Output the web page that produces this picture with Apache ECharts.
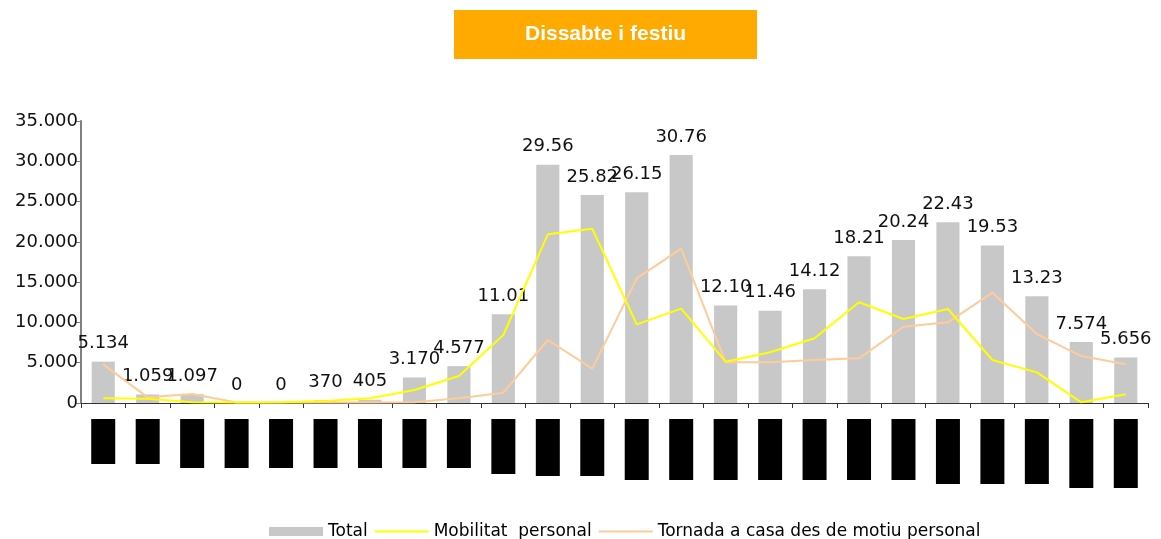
<!DOCTYPE html>
<html>
<head>
<meta charset="utf-8">
<script src="https://cdn.jsdelivr.net/npm/echarts@6.0.0/dist/echarts.min.js"></script>
<style>
  html, body { margin: 0; padding: 0; background: #fff; }
  #chart { width: 1161px; height: 539px; }
</style>
</head>
<body>
<!-- chart container -->
<div id="chart"></div>
<script>
// franges horàries (les etiquetes surten com a blocs negres)
const franges = ["0-1", "1-2", "2-3", "3-4", "4-5", "5-6", "6-7", "7-8", "8-9", "9-10", "10-11", "11-12",
  "12-13", "13-14", "14-15", "15-16", "16-17", "17-18", "18-19", "19-20", "20-21", "21-22", "22-23", "23-24"];
const total = [5134, 1059, 1097, 0, 0, 370, 405, 3170, 4577, 11017, 29562, 25827,
  26151, 30769, 12104, 11463, 14124, 18215, 20244, 22430, 19533, 13236, 7574, 5656];
const mobilitat = [580, 530, 90, 50, 80, 250, 580, 1610, 3350, 8440, 20930, 21630,
  9760, 11710, 5130, 6300, 8030, 12500, 10420, 11670, 5340, 3800, 80, 1080];
const tornada = [4800, 700, 1120, 50, 50, 50, 50, 80, 580, 1280, 7820, 4260,
  15470, 19150, 5050, 5050, 5340, 5540, 9470, 10010, 13690, 8560, 5830, 4800];
const yTicks = [0, 5000, 10000, 15000, 20000, 25000, 30000, 35000];

// longitud dels blocs negres de l'eix x (estil)
const boxLen = [45, 45, 49, 49, 49, 49, 49, 49, 49, 55, 57, 57, 61, 61, 61, 61, 61, 61, 61, 65, 65, 65, 69, 69];

const fmt = v => String(v).replace(/\B(?=(\d{3})+(?!\d))/g, ".");
const font = "DejaVu Sans";
const lineIcon = "path://M0,0H54V2H0Z";

const rich = {};
boxLen.forEach((w, i) => {
  rich["b" + i] = { width: w, height: 24, lineHeight: 24, backgroundColor: "#000", color: "#000", fontSize: 8 };
});

const myChart = echarts.init(document.getElementById("chart"));
myChart.setOption({
  animation: false,
  title: {
    text: "Dissabte i festiu",
    left: 454,
    top: 10,
    backgroundColor: "#ffaa00",
    padding: [14, 71],
    textStyle: { color: "#fff", fontSize: 21, fontWeight: "bold", fontFamily: "Liberation Sans", lineHeight: 21 },
  },
  grid: { left: 81, right: 13, top: 121, bottom: 136 },
  legend: {
    left: 264,
    top: 518,
    itemWidth: 54,
    itemHeight: 9,
    itemGap: 7,
    itemStyle: { borderWidth: 0 },
    textStyle: { fontFamily: font, fontSize: 17, color: "#000" },
    data: [
      { name: "Total", icon: "rect" },
      { name: "Mobilitat  personal", icon: lineIcon },
      {
        name: "Tornada a casa des de motiu personal",
        icon: lineIcon,
        textStyle: { width: 324, overflow: "truncate", ellipsis: "" },
      },
    ],
  },
  xAxis: {
    type: "category",
    data: franges,
    axisLine: { lineStyle: { color: "#333", width: 1 } },
    axisTick: { show: true, length: 5, lineStyle: { color: "#333" } },
    axisLabel: {
      interval: 0,
      rotate: 90,
      margin: 16,
      formatter: (v, i) => "{b" + i + "|" + v + "}",
      rich: rich,
    },
  },
  yAxis: {
    type: "value",
    min: yTicks[0],
    max: yTicks[yTicks.length - 1],
    interval: yTicks[1] - yTicks[0],
    splitLine: { show: false },
    axisLine: { show: true, lineStyle: { color: "#808080", width: 2 } },
    axisTick: { show: true, length: 5, lineStyle: { color: "#808080" } },
    axisLabel: { margin: 3, fontFamily: font, fontSize: 18, color: "#111", formatter: fmt },
  },
  series: [
    {
      name: "Total",
      type: "bar",
      data: total,
      barWidth: "52%",
      itemStyle: { color: "#c8c8c8" },
      label: {
        show: true,
        position: "top",
        distance: 9,
        fontFamily: font,
        fontSize: 18,
        color: "#111",
        width: 60,
        overflow: "truncate",
        ellipsis: "",
        formatter: p => fmt(p.value),
      },
      z: 1,
    },
    {
      name: "Mobilitat  personal",
      type: "line",
      data: mobilitat,
      symbol: "none",
      lineStyle: { color: "#ffff00", width: 2 },
      itemStyle: { color: "#ffff00" },
      z: 3,
    },
    {
      name: "Tornada a casa des de motiu personal",
      type: "line",
      data: tornada,
      symbol: "none",
      lineStyle: { color: "#ffcc99", width: 2 },
      itemStyle: { color: "#ffcc99" },
      z: 2,
    },
  ],
});
</script>
</body>
</html>
